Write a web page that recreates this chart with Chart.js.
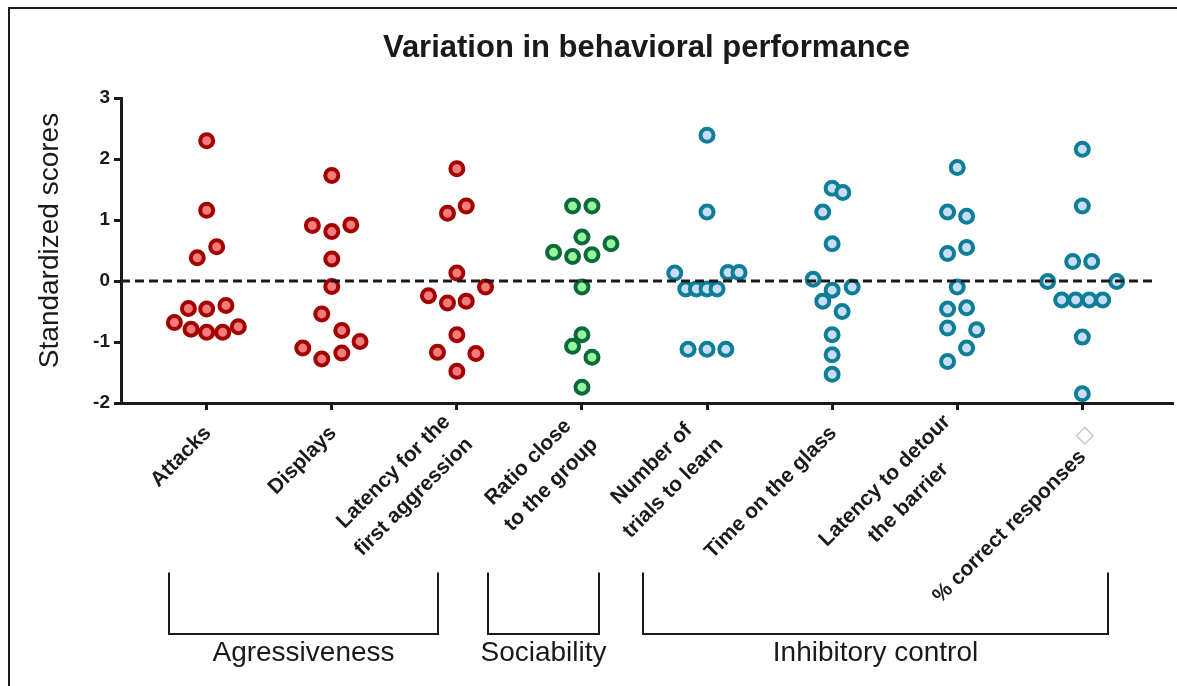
<!DOCTYPE html>
<html>
<head>
<meta charset="utf-8">
<title>Variation in behavioral performance</title>
<script src="https://cdn.jsdelivr.net/npm/chart.js@4.4.1/dist/chart.umd.min.js"></script>
<style>
  html, body { margin: 0; padding: 0; background: #fff; }
  #contenedor { width: 1177px; height: 686px; }
</style>
</head>
<body>
<div id="contenedor"><canvas id="grafico"></canvas></div>
<script>
// Categorías del eje x (las líneas vacías separan las etiquetas de dos líneas)
const categorias = ['Attacks', 'Displays', 'Latency for the first aggression', 'Ratio close to the group',
                    'Number of trials to learn', 'Time on the glass', 'Latency to detour the barrier', '% correct responses'];
const etiquetas = [
    ['', 'Attacks'],
    ['', 'Displays'],
    ['Latency for the', '', 'first aggression'],
    ['Ratio close ', '', 'to the group'],
    ['Number of  ', '', 'trials to learn'],
    ['', 'Time on the glass'],
    ['Latency to detour', '', 'the barrier      '],
    ['', '', '% correct responses   ']
];

// Grupos de conducta
const grupos = ['Agressiveness', 'Sociability', 'Inhibitory control'];
const grupoDeCategoria = [0, 0, 0, 1, 2, 2, 2, 2];

// Puntajes estandarizados
const attacks    = [2.30, 1.16, 0.56, 0.38, -0.45, -0.46, -0.40, -0.68, -0.79, -0.84, -0.84, -0.75];
const displays   = [1.73, 0.91, 0.92, 0.81, 0.36, -0.09, -0.54, -0.81, -0.99, -1.10, -1.28, -1.18];
const latAggr    = [1.84, 1.11, 1.23, 0.13, -0.24, -0.36, -0.33, -0.10, -0.88, -1.17, -1.19, -1.48];
const ratioGroup = [1.23, 1.23, 0.72, 0.47, 0.40, 0.43, 0.61, -0.10, -0.88, -1.07, -1.25, -1.74];
const trials     = [2.39, 1.13, 0.13, 0.14, 0.14, -0.13, -0.13, -0.13, -0.13, -1.12, -1.12, -1.12];
const glassTime  = [1.52, 1.45, 1.13, 0.61, 0.03, -0.15, -0.10, -0.33, -0.50, -0.88, -1.21, -1.53];
const latDetour  = [1.86, 1.13, 1.06, 0.55, 0.45, -0.10, -0.46, -0.44, -0.77, -0.80, -1.10, -1.32];
const correct    = [2.16, 1.23, 0.32, 0.32, -0.01, -0.01, -0.31, -0.31, -0.31, -0.31, -0.92, -1.85];

// Desplazamiento horizontal de cada punto en el enjambre (fracción de categoría)
const attacksDx    = [0, 0, 0.08, -0.075, -0.146, 0, 0.154, -0.258, -0.125, 0, 0.128, 0.253];
const displaysDx   = [0, -0.155, 0.152, 0, 0, 0, -0.08, 0.08, 0.226, -0.232, -0.08, 0.08];
const latAggrDx    = [0, -0.075, 0.075, 0, -0.227, -0.075, 0.075, 0.229, 0, -0.155, 0.152, 0];
const ratioGroupDx = [-0.075, 0.08, 0, -0.227, -0.075, 0.08, 0.232, 0, 0, -0.075, 0.08, 0];
const trialsDx     = [0, 0, -0.258, 0.168, 0.256, -0.17, -0.085, 0, 0.08, -0.152, 0, 0.15];
const glassTimeDx  = [0, 0.085, -0.075, 0, -0.152, 0, 0.16, -0.075, 0.08, 0, 0, 0];
const latDetourDx  = [0, -0.077, 0.075, 0.075, -0.077, 0, -0.077, 0.075, -0.077, 0.155, 0.075, -0.077];
const correctDx    = [0, 0, -0.077, 0.075, -0.277, 0.275, -0.165, -0.053, 0.056, 0.163, 0, 0];

const series = [attacks, displays, latAggr, ratioGroup, trials, glassTime, latDetour, correct];
const desplazamientos = [attacksDx, displaysDx, latAggrDx, ratioGroupDx, trialsDx, glassTimeDx, latDetourDx, correctDx];

// Ticks del eje y
const ticksY = [-2, -1, 0, 1, 2, 3];

// Colores por grupo: borde y relleno
const bordes   = ['#a30000', '#0a6a3b', '#0e7e97'];
const rellenos = ['#f47c7c', '#98f59a', '#c9def6'];

const fuente = '"Liberation Sans", Arial, sans-serif';
Chart.defaults.font.family = fuente;
Chart.defaults.color = '#1a1a1a';

// Decoraciones: marco, título del eje y, llaves de grupos
const decoracion = {
    id: 'decoracion',
    beforeDraw(chart) {
        const ctx = chart.ctx;
        ctx.save();
        ctx.strokeStyle = '#1a1a1a';
        ctx.lineWidth = 2;
        ctx.beginPath();
        ctx.moveTo(9, chart.height);
        ctx.lineTo(9, 8);
        ctx.lineTo(chart.width, 8);
        ctx.stroke();
        ctx.restore();
    },
    afterDraw(chart, args, opts) {
        const ctx = chart.ctx;
        const x = chart.scales.x;

        // título del eje y
        ctx.save();
        ctx.fillStyle = '#1a1a1a';
        ctx.font = '28px ' + fuente;
        ctx.textAlign = 'center';
        ctx.textBaseline = 'middle';
        ctx.translate(50, 240.5);
        ctx.rotate(-Math.PI / 2);
        ctx.fillText('Standardized scores', 0, 0);
        ctx.restore();

        // símbolo gris al final de la última etiqueta
        ctx.save();
        ctx.fillStyle = '#c4c4c4';
        ctx.font = '24px "DejaVu Sans", sans-serif';
        ctx.textAlign = 'center';
        ctx.textBaseline = 'middle';
        ctx.fillText('\u25C7', x.getPixelForValue(categorias.length - 1) + 2.4, chart.chartArea.bottom + 32.5);
        ctx.restore();

        // llaves y nombres de los grupos
        ctx.save();
        ctx.strokeStyle = '#1a1a1a';
        ctx.lineWidth = 2;
        ctx.fillStyle = '#1a1a1a';
        ctx.font = '28px ' + fuente;
        ctx.textAlign = 'center';
        ctx.textBaseline = 'alphabetic';
        grupos.forEach((nombre, i) => {
            const x1 = Math.round(x.getPixelForValue(opts.llaves[i][0]));
            const x2 = Math.round(x.getPixelForValue(opts.llaves[i][1]));
            ctx.beginPath();
            ctx.moveTo(x1, opts.arriba);
            ctx.lineTo(x1, opts.abajo);
            ctx.lineTo(x2, opts.abajo);
            ctx.lineTo(x2, opts.arriba);
            ctx.stroke();
            ctx.fillText(nombre, (x1 + x2) / 2, opts.texto);
        });
        ctx.restore();
    }
};

// Conjuntos de datos: uno por categoría
const datasets = series.map((valores, i) => {
    const g = grupoDeCategoria[i];
    return {
        type: 'scatter',
        label: categorias[i],
        data: valores.map((v, j) => ({ x: i + desplazamientos[i][j], y: v })),
        backgroundColor: rellenos[g],
        borderColor: bordes[g],
        pointRadius: 6.5,
        pointBorderWidth: 4,
        pointHoverRadius: 6.5
    };
});

// Línea punteada en cero
datasets.unshift({
    type: 'line',
    label: 'cero',
    data: [{ x: -0.685, y: 0 }, { x: 7.565, y: 0 }],
    borderColor: '#1a1a1a',
    borderWidth: 3,
    borderDash: [9, 5],
    pointRadius: 0,
    fill: false,
    order: -1
});

const ctx = document.getElementById('grafico').getContext('2d');
new Chart(ctx, {
    type: 'scatter',
    data: { datasets: datasets },
    options: {
        responsive: true,
        maintainAspectRatio: false,
        animation: false,
        devicePixelRatio: 1,
        layout: { autoPadding: false, padding: { left: 0, right: 5, top: 0, bottom: 0 } },
        plugins: {
            legend: { display: false },
            tooltip: { enabled: false },
            title: {
                display: true,
                text: 'Variation in behavioral performance',
                fullSize: false,
                color: '#1a1a1a',
                font: { size: 31, weight: 'bold' },
                padding: { top: 30, bottom: 30.8 }
            },
            decoracion: {
                llaves: [[-0.301, 1.849], [2.249, 3.136], [3.486, 7.205]],
                arriba: 572.5,
                abajo: 634,
                texto: 661
            }
        },
        scales: {
            x: {
                type: 'linear',
                min: -0.685,
                max: 7.717,
                afterBuildTicks: scale => {
                    scale.ticks = categorias.map((c, i) => ({ value: i }));
                },
                afterFit: scale => {
                    scale.height = 283;
                    scale.paddingLeft = 0;
                    scale.paddingRight = 0;
                },
                grid: { drawOnChartArea: false, color: '#1a1a1a', lineWidth: 3, tickLength: 7 },
                border: { color: '#1a1a1a', width: 3 },
                ticks: {
                    autoSkip: false,
                    minRotation: 45,
                    maxRotation: 45,
                    padding: 3,
                    labelOffset: -10,
                    color: '#1a1a1a',
                    font: { size: 21, weight: 'bold', lineHeight: '16px' },
                    callback: value => etiquetas[value]
                }
            },
            y: {
                min: -2,
                max: 3,
                afterBuildTicks: scale => {
                    scale.ticks = ticksY.map(v => ({ value: v }));
                },
                afterFit: scale => { scale.width = 121; },
                grid: { drawOnChartArea: false, color: '#1a1a1a', lineWidth: 3, tickLength: 7 },
                border: { color: '#1a1a1a', width: 3 },
                ticks: {
                    padding: 4,
                    color: '#1a1a1a',
                    font: { size: 19, weight: 'bold' }
                }
            }
        }
    },
    plugins: [decoracion]
});
</script>
</body>
</html>
